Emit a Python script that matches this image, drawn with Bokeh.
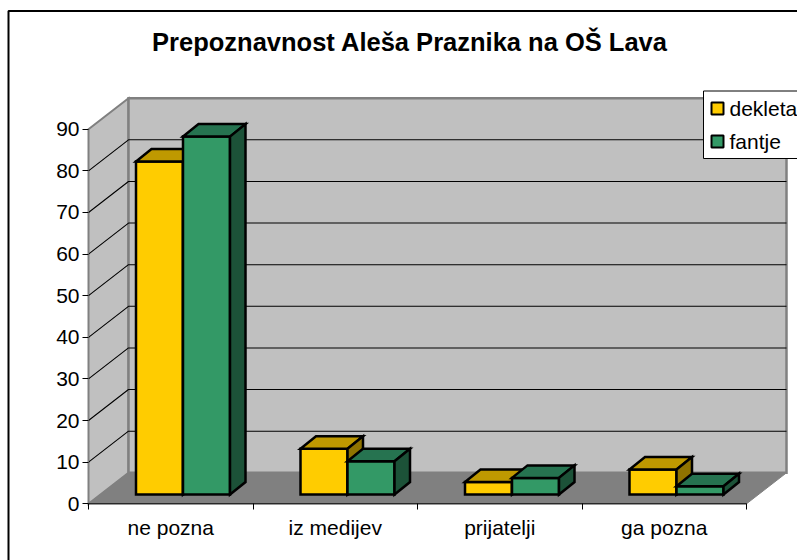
from bokeh.plotting import figure
from bokeh.models import Range1d, LinearAxis, FixedTicker, Label
from bokeh.embed import file_html
from bokeh.resources import INLINE

categories = ["ne pozna", "iz medijev", "prijatelji", "ga pozna"]
dekleta = [80, 11, 3, 6]
fantje = [86, 8, 4, 2]
y_ticks = [0, 10, 20, 30, 40, 50, 60, 70, 80, 90]
series_names = ["dekleta", "fantje"]
title_text = "Prepoznavnost Aleša Praznika na OŠ Lava"
FONT = "Liberation Sans"

W, H = 797, 560
L, R, T, B = 88, 746, 128.7, 503.3     # inner frame (front plane) in page px
PXX = (R - L) / 4
PXY = (B - T) / 90
DX, DY = 40 / PXX, 31 / PXY            # depth of the 3D box in data units

p = figure(width=W, height=H, output_backend="svg", toolbar_location=None,
           x_axis_type=None, y_axis_type=None,
           x_range=Range1d(-L / PXX, (W - L) / PXX),
           y_range=Range1d(-(H - B) / PXY, B / PXY),
           min_border=0, min_border_left=0, min_border_right=0, min_border_top=0, min_border_bottom=0,
           outline_line_color=None, background_fill_color="white", border_fill_color="white")
p.xgrid.visible = False
p.ygrid.visible = False


def X(px):
    return (px - L) / PXX


def Y(py):
    return (B - py) / PXY


def poly(xs, ys, fill, lc="black", lw=1.0):
    p.patch(xs, ys, fill_color=fill, line_color=lc, line_width=lw, line_join="miter")


# outer frame
p.line([X(8), X(8), X(W)], [Y(H), Y(10.5), Y(10.5)], line_color="black", line_width=2)

ymax = y_ticks[-1]
# walls
poly([0, DX, DX, 0], [0, DY, ymax + DY, ymax], "#C0C0C0", "#808080", 2)
poly([DX, 4 + DX, 4 + DX, DX], [DY, DY, ymax + DY, ymax + DY], "#C0C0C0", "#808080", 2.5)
poly([0, 4, 4 + DX, DX], [0, 0, DY, DY], "#808080", "#808080", 1)

# gridlines on walls (none over the top edge)
for v in y_ticks[1:-1]:
    p.line([0, DX, 4 + DX], [v, v + DY, v + DY], line_color="black", line_width=1.1)

# bars
BW = 47 / PXX          # bar width
GAP0 = 47.5 / PXX      # offset of the first bar inside a category
D1Y = 0.5 * (1 - 12.5 / 31) * DY  # front of bar depth
D2X, D2Y = 15.5 / PXX, 12.5 / PXY
FILLS = [("#FFCC00", "#BF9900", "#8F7300"), ("#339966", "#267350", "#1C5238")]


def bar(x0, v, cols):
    x1 = x0 + BW
    y0 = D1Y
    y1 = D1Y + v
    poly([x0, x1, x1, x0], [y0, y0, y1, y1], cols[0], "black", 2.5)
    poly([x0, x1, x1 + D2X, x0 + D2X], [y1, y1, y1 + D2Y, y1 + D2Y], cols[1], "black", 2.5)
    poly([x1, x1 + D2X, x1 + D2X, x1], [y0, y0 + D2Y, y1 + D2Y, y1], cols[2], "black", 2.5)


for i in range(len(categories)):
    bar(i + GAP0, dekleta[i], FILLS[0])
    bar(i + GAP0 + BW, fantje[i], FILLS[1])

# axes
p.line([0, 4], [0, 0], line_color="black", line_width=1)
p.line([0, 0], [0, ymax], line_color="#808080", line_width=1)

yax = LinearAxis(ticker=FixedTicker(ticks=y_ticks), axis_line_color=None, major_tick_line_color="black",
                 major_tick_in=0, major_tick_out=6, minor_tick_line_color=None,
                 major_label_text_font=FONT, major_label_text_font_size="21px",
                 major_label_standoff=3, major_label_text_color="black",
                 fixed_location=0)
p.add_layout(yax, "left")

xax = LinearAxis(ticker=FixedTicker(ticks=[0.5, 1.5, 2.5, 3.5], minor_ticks=[0, 1, 2, 3, 4]),
                 axis_line_color=None, major_tick_line_color=None, major_tick_in=0, major_tick_out=0,
                 minor_tick_line_color="black", minor_tick_in=0, minor_tick_out=6,
                 major_label_text_font=FONT, major_label_text_font_size="21px",
                 major_label_standoff=6, major_label_text_color="black",
                 major_label_overrides={i + 0.5: c for i, c in enumerate(categories)},
                 fixed_location=0)
p.add_layout(xax, "below")

# title
p.add_layout(Label(x=(152 + 667) / 2, y=H - 41.5, x_units="screen", y_units="screen", text=title_text,
                   text_font=FONT, text_font_style="bold", text_font_size="25.5px",
                   text_align="center", text_baseline="middle", text_color="black"))

# legend
p.patch([X(703), X(805), X(805), X(703)], [Y(90.5), Y(90.5), Y(158), Y(158)],
        fill_color="white", line_color="black", line_width=1)
for yy, name, f in zip([108, 141], series_names, [FILLS[0][0], FILLS[1][0]]):
    p.patch([X(711), X(723), X(723), X(711)], [Y(yy - 6), Y(yy - 6), Y(yy + 6), Y(yy + 6)],
            fill_color=f, line_color="black", line_width=2)
    p.add_layout(Label(x=729, y=H - yy, x_units="screen", y_units="screen", text=name,
                       text_font=FONT, text_font_size="21px", text_baseline="middle", text_color="black"))

open("out.html", "w").write(file_html(p, INLINE))
